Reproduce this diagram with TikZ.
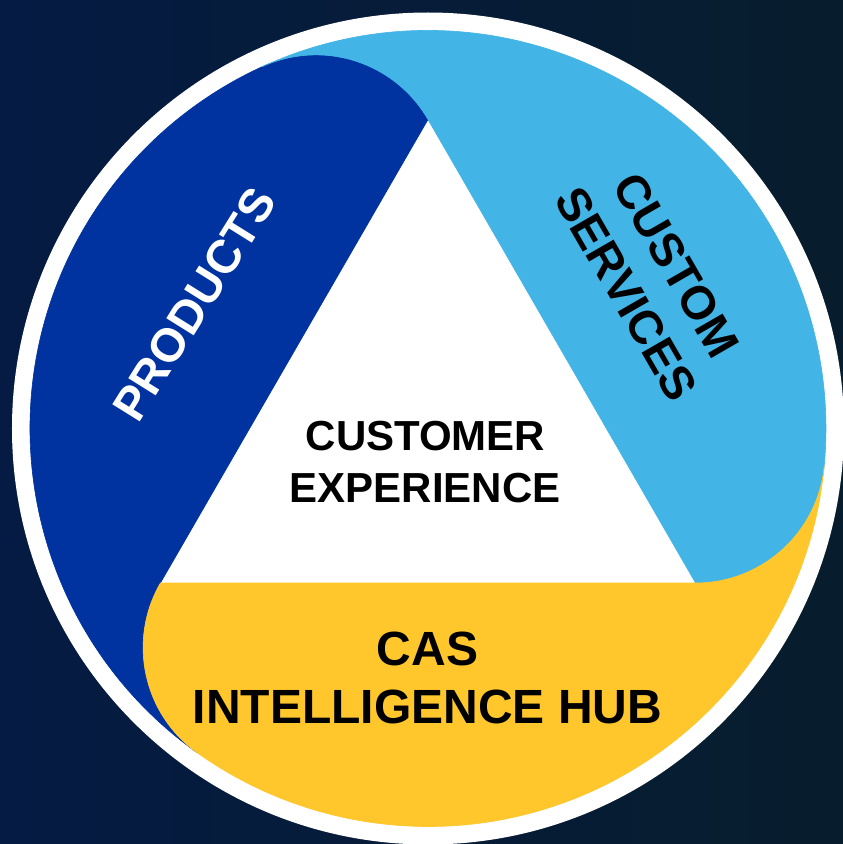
\documentclass[tikz,border=0pt]{standalone}
\usepackage{fontspec}
\setmainfont{Liberation Sans}
\definecolor{bgL}{HTML}{051B43}
\definecolor{bgR}{HTML}{071D2D}
\definecolor{dblue}{HTML}{0033A0}
\definecolor{lblue}{HTML}{42B4E5}
\definecolor{ygold}{HTML}{FFC72C}
\begin{document}
\begin{tikzpicture}[x=1pt,y=1pt,
  band/.style={line width=0.6pt, line join=round},
  lbl/.style={inner sep=0pt, font=\bfseries}]
\def\Rs{129.2}
\def\Rd{398}
\useasboundingbox (-428,-415.5) rectangle (415,428.5);
\fill[left color=bgL, right color=bgR] (-428,-415.5) rectangle (415,428.5);
% white disk (ring and triangle)
\fill[white] (0,0) circle[radius=416];
% vertices of the triangle
\coordinate (A) at (90:309);
\coordinate (B) at (210:309);
\coordinate (C) at (330:309);
% PRODUCTS band (edge A-B)
\fill[dblue, draw=dblue, band] (A) -- (B)
  arc[start angle=150, end angle=234.6, radius=\Rs]
  arc[start angle=234.6, end angle=114.6, radius=\Rd]
  arc[start angle=114.6, end angle=30, radius=\Rs] -- cycle;
% CUSTOM SERVICES band (edge C-A)
\fill[lblue, draw=lblue, band] (C) -- (A)
  arc[start angle=30, end angle=114.6, radius=\Rs]
  arc[start angle=114.6, end angle=-5.4, radius=\Rd]
  arc[start angle=-5.4, end angle=-90, radius=\Rs] -- cycle;
% CAS INTELLIGENCE HUB band (edge B-C)
\fill[ygold, draw=ygold, band] (B) -- (C)
  arc[start angle=-90, end angle=-5.4, radius=\Rs]
  arc[start angle=-5.4, end angle=-125.4, radius=\Rd]
  arc[start angle=234.6, end angle=150, radius=\Rs] -- cycle;
% labels
\node[lbl, text=white, rotate=58, font=\bfseries\fontsize{47}{56}\selectfont]
  (products) at (-233.5,124) {PRODUCTS};
\node[lbl, text=black, rotate=-60, align=center, font=\bfseries\fontsize{47}{58}\selectfont]
  (custom) at (223.5,149) {CUSTOM\\SERVICES};
\node[lbl, anchor=base, font=\bfseries\fontsize{42}{50}\selectfont]
  (cx1) at (-2.5,-21.5) {CUSTOMER};
\node[lbl, anchor=base, font=\bfseries\fontsize{42}{50}\selectfont]
  (cx2) at (-3,-73.5) {EXPERIENCE};
\node[lbl, anchor=base, font=\bfseries\fontsize{48}{58}\selectfont]
  (cas1) at (-0.5,-236.5) {CAS};
\node[lbl, anchor=base, font=\bfseries\fontsize{48}{58}\selectfont]
  (cas2) at (-0.5,-294.5) {INTELLIGENCE HUB};
\end{tikzpicture}
\end{document}
